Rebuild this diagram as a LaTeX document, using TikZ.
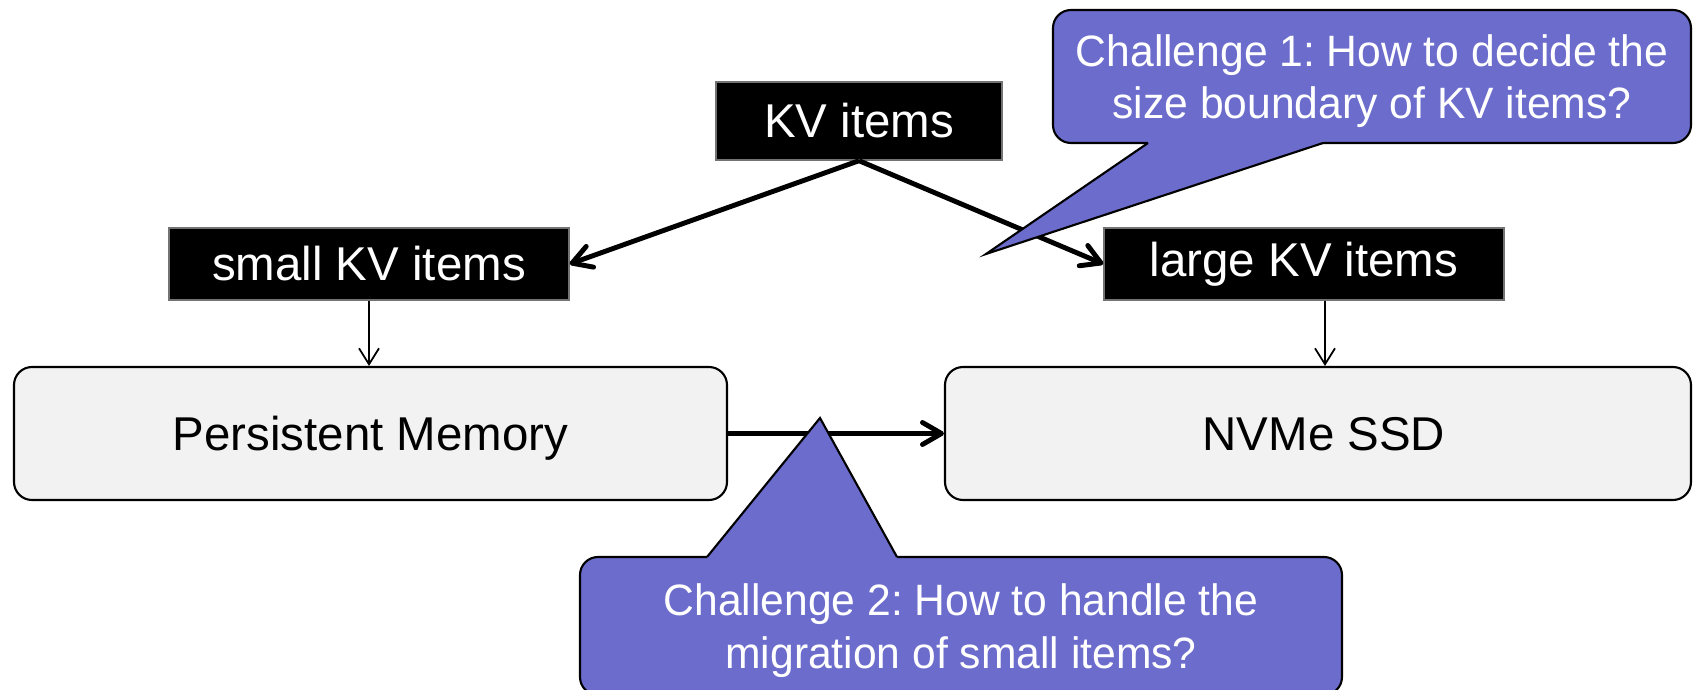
\documentclass[tikz,border=0pt]{standalone}
\usepackage{fontspec}
\setmainfont{Liberation Sans}
\newfontfamily\chfont[FakeStretch=0.97]{Liberation Sans}
\usetikzlibrary{arrows.meta}
\definecolor{calloutblue}{RGB}{107,108,204}
\definecolor{devgray}{RGB}{242,242,242}
\frenchspacing
\begin{document}
\begin{tikzpicture}[x=1cm,y=1cm,
  kvbox/.style={fill=black, draw=black!55, line width=0.4pt, text=white,
    minimum width=4.00cm, minimum height=0.72cm, inner sep=0pt,
    font=\fontsize{13.5}{16}\selectfont},
  devbox/.style={fill=devgray, draw=black, line width=0.6pt, rounded corners=0.18cm,
    minimum height=1.33cm, inner sep=0pt, text depth=0pt,
    font=\fontsize{13.5}{16}\selectfont},
  chbox/.style={fill=calloutblue, draw=black, line width=0.6pt, rounded corners=0.18cm,
    outer sep=0pt, inner sep=0pt, text=white, align=center, text depth=0pt,
    font=\chfont\fontsize{12.5}{15}\selectfont},
  thick arrow/.style={line width=1.4pt, -{Straight Barb[length=1.9mm,width=2.2mm,round]}},
  thin arrow/.style={line width=0.5pt, -{Straight Barb[length=1.6mm,width=2.0mm]}}]
\useasboundingbox (0,0) rectangle (16.93,6.89);
\clip (0,0) rectangle (16.93,6.89);
% items and devices
\node[kvbox, minimum width=2.86cm, minimum height=0.78cm] (kv) at (8.59,5.68) {KV items};
\node[kvbox] (small) at (3.69,4.25) {small KV items};
\node[kvbox] (large) at (13.04,4.25) {large KV items};
\node[devbox, minimum width=7.13cm] (pm) at (3.705,2.555) {Persistent Memory};
\node[devbox, minimum width=7.46cm] (ssd) at (13.18,2.555) {\hspace{0.12cm}NVMe SSD};
% flows
\draw[thick arrow] (kv.south) -- (small.east);
\draw[thick arrow] (kv.south) -- (large.west);
\draw[thin arrow] (small.south) -- (small.south |- pm.north);
\coordinate (ssdin) at ([xshift=0.21cm]large.south);
\draw[thin arrow] (ssdin) -- (ssdin |- ssd.north);
\draw[thick arrow] (pm.east) -- (ssd.west);
% challenge 1
\node[chbox, minimum width=6.38cm, minimum height=1.33cm] (ch1) at (13.72,6.125)
  {Challenge 1: How to decide the\\size boundary of KV items?};
\coordinate (tip1) at (9.86,4.35);
\fill[calloutblue] ([xshift=-2.24cm,yshift=1pt]ch1.south) -- ([xshift=-2.24cm]ch1.south)
  -- (tip1) -- ([xshift=-0.49cm]ch1.south) -- ([xshift=-0.49cm,yshift=1pt]ch1.south) -- cycle;
\draw[line width=0.6pt] ([xshift=-2.24cm]ch1.south) -- (tip1) -- ([xshift=-0.49cm]ch1.south);
% challenge 2
\node[chbox, minimum width=7.62cm, minimum height=1.38cm] (ch2) at (9.61,0.63)
  {Challenge 2: How to handle the\\migration of small items?};
\coordinate (tip2) at (8.20,2.71);
\fill[calloutblue] ([xshift=-2.54cm,yshift=-1pt]ch2.north) -- ([xshift=-2.54cm]ch2.north)
  -- (tip2) -- ([xshift=-0.64cm]ch2.north) -- ([xshift=-0.64cm,yshift=-1pt]ch2.north) -- cycle;
\draw[line width=0.6pt] ([xshift=-2.54cm]ch2.north) -- (tip2) -- ([xshift=-0.64cm]ch2.north);
\end{tikzpicture}
\end{document}
